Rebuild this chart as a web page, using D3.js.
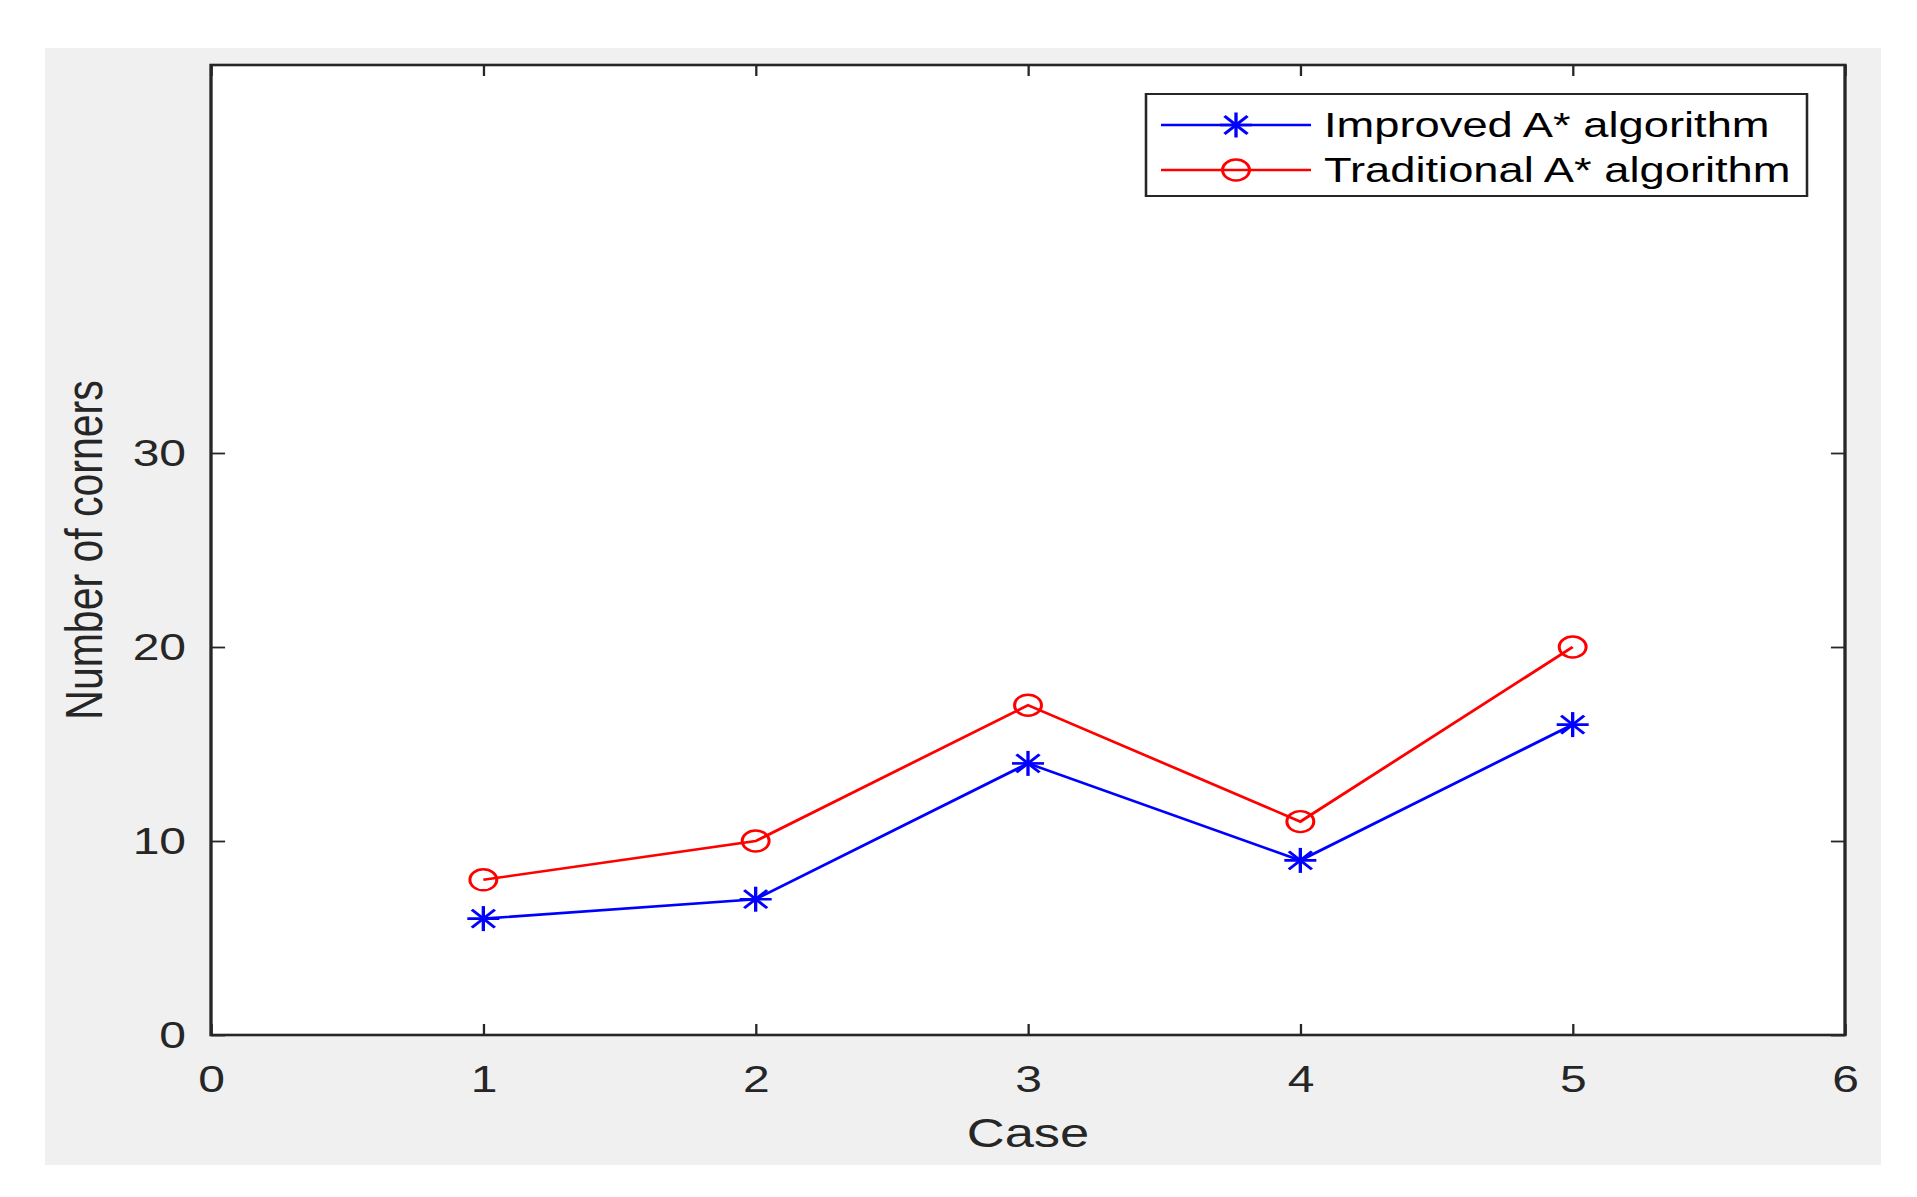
<!DOCTYPE html>
<html><head><meta charset="utf-8">
<script src="https://cdn.jsdelivr.net/npm/d3@7"></script>
<style>body{margin:0;background:#fff}</style></head>
<body><svg id="c" width="1917" height="1197"></svg>
<script>
const cases = [1, 2, 3, 4, 5];
const improved = [6, 7, 14, 9, 16];
const traditional = [8, 10, 17, 11, 20];
const xTicks = [0, 1, 2, 3, 4, 5, 6];
const yTicks = [0, 10, 20, 30];
const seriesNames = ["Improved A* algorithm", "Traditional A* algorithm"];
const xLabel = "Case";
const yLabel = "Number of corners";

const SX = 1.28;            // the original figure is stretched horizontally
const px = v => v / SX;
const FONT = "'Liberation Sans', Arial, Helvetica, sans-serif";
const INK = "#262626";
const L = 211, R = 1845, T = 65, B = 1035;

const svg = d3.select("#c");
const g = svg.append("g").attr("transform", `scale(${SX},1)`);

g.append("rect").attr("x", px(45)).attr("y", 48).attr("width", px(1836)).attr("height", 1117).attr("fill", "#f0f0f0");

const x = d3.scaleLinear().domain([0, 6]).range([px(L), px(R)]);
const y = d3.scaleLinear().domain([0, 50]).range([B, T]);

g.append("rect").attr("x", x(0)).attr("y", y(50)).attr("width", x(6) - x(0)).attr("height", y(0) - y(50)).attr("fill", "#fff");

function styleAxis(sel, fs) {
  sel.select(".domain").remove();
  sel.selectAll(".tick line").attr("stroke", INK).attr("stroke-width", 1.8);
  sel.selectAll(".tick text").attr("fill", INK).attr("font-size", fs).attr("font-family", FONT);
}

g.append("g").attr("transform", `translate(0,${B})`)
  .call(d3.axisBottom(x).tickValues(xTicks).tickFormat(d3.format("d")).tickSizeInner(-11).tickSizeOuter(0).tickPadding(30))
  .call(s => styleAxis(s, 37.5));
g.append("g").attr("transform", `translate(0,${T})`)
  .call(d3.axisTop(x).tickValues(xTicks).tickFormat("").tickSizeInner(-11).tickSizeOuter(0))
  .call(s => styleAxis(s, 37.5));
g.append("g").attr("transform", `translate(${x(0)},0)`)
  .call(d3.axisLeft(y).tickValues(yTicks).tickFormat(d3.format("d")).tickSizeInner(-11).tickSizeOuter(0).tickPadding(19.5))
  .call(s => styleAxis(s, 37.5));
g.append("g").attr("transform", `translate(${x(6)},0)`)
  .call(d3.axisRight(y).tickValues(yTicks).tickFormat("").tickSizeInner(-11).tickSizeOuter(0))
  .call(s => styleAxis(s, 37.5));

g.append("rect").attr("x", x(0)).attr("y", y(50)).attr("width", x(6) - x(0)).attr("height", y(0) - y(50))
  .attr("fill", "none").attr("stroke", INK).attr("stroke-width", 2.6);

const line = d3.line().x((d, i) => x(cases[i])).y(d => y(d));

function star(sel, cx, cy, color) {
  const h = 12.5, d = 9;
  const gg = sel.append("g").attr("transform", `translate(${cx},${cy})`).attr("stroke", color).attr("stroke-width", 2.6);
  [[-h, 0, h, 0], [0, -h, 0, h], [-d, -d, d, d], [-d, d, d, -d]].forEach(a =>
    gg.append("line").attr("x1", a[0]).attr("y1", a[1]).attr("x2", a[2]).attr("y2", a[3]));
}
function ring(sel, cx, cy, color) {
  sel.append("circle").attr("cx", cx).attr("cy", cy).attr("r", 10.5).attr("fill", "none").attr("stroke", color).attr("stroke-width", 2.4);
}

g.append("path").datum(traditional).attr("d", line).attr("fill", "none").attr("stroke", "#ff0000").attr("stroke-width", 2.6);
g.append("path").datum(improved).attr("d", line).attr("fill", "none").attr("stroke", "#0000ff").attr("stroke-width", 2.6);
traditional.forEach((v, i) => ring(g, x(cases[i]), y(v), "#ff0000"));
improved.forEach((v, i) => star(g, x(cases[i]), y(v), "#0000ff"));

// axis labels
g.append("text").attr("x", x(3)).attr("y", 1147).attr("text-anchor", "middle")
  .attr("font-family", FONT).attr("font-size", 41).attr("fill", INK).text(xLabel);
g.append("text").attr("transform", `translate(${px(102)},${(T + B) / 2}) rotate(-90)`).attr("text-anchor", "middle")
  .attr("font-family", FONT).attr("font-size", 41).attr("fill", INK).text(yLabel);

// legend
g.append("rect").attr("x", px(1146)).attr("y", 94).attr("width", px(661)).attr("height", 102)
  .attr("fill", "#fff").attr("stroke", INK).attr("stroke-width", 2);
const legRows = [
  { name: seriesNames[0], color: "#0000ff", mk: star, cy: 125 },
  { name: seriesNames[1], color: "#ff0000", mk: ring, cy: 170 }
];
legRows.forEach(r => {
  g.append("line").attr("x1", px(1161)).attr("x2", px(1311)).attr("y1", r.cy).attr("y2", r.cy)
    .attr("stroke", r.color).attr("stroke-width", 2.4);
  r.mk(g, px(1236), r.cy, r.color);
  g.append("text").attr("x", px(1324)).attr("y", r.cy + 12.5).attr("font-family", FONT).attr("font-size", 35.4)
    .attr("fill", "#000").text(r.name);
});
</script></body></html>
